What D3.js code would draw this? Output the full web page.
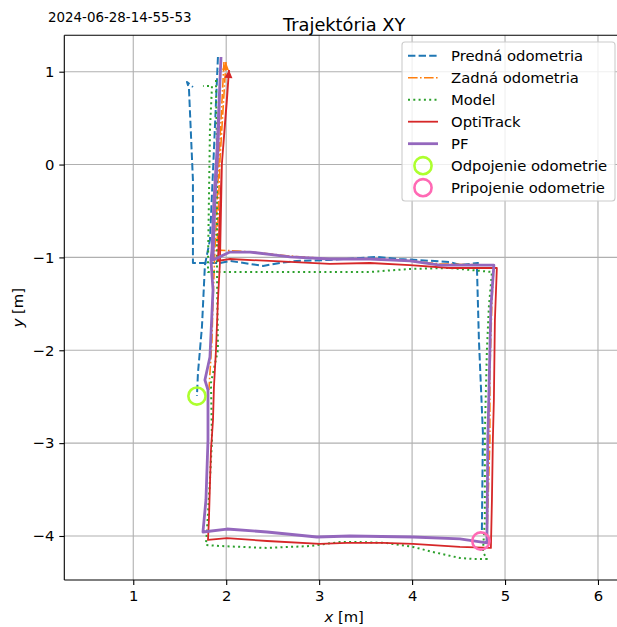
<!DOCTYPE html>
<html><head><meta charset="utf-8">
<script src="https://cdn.jsdelivr.net/npm/d3@7"></script>
<style>body{margin:0;background:#fff}svg{display:block}text{font-family:"DejaVu Sans",sans-serif;fill:#000}</style>
</head><body><svg id="c" width="617" height="627"></svg>
<script>
// ---------- data ----------
const xTicks = [1, 2, 3, 4, 5, 6];
const yTicks = [-4, -3, -2, -1, 0, 1];
const xLimits = [0.258, 6.28];
const yLimits = [-4.474, 1.392];

const seriesNames = ["Predná odometria", "Zadná odometria", "Model", "OptiTrack", "PF"];
const markerNames = ["Odpojenie odometrie", "Pripojenie odometrie"];

// Predná odometria (front odometry) - before disconnect, after reconnect
const prednaA = [[1.911,1.158],[1.868,0.156],[1.825,-0.813],[1.771,-1.082],[1.739,-1.749],[1.696,-2.245],[1.685,-2.493]];
const prednaB = [[4.751,-3.935],[4.762,-2.891],[4.719,-1.889],[4.697,-1.082],[4.708,-1.060],[4.514,-1.082],[4.407,-1.049],
  [3.869,-1.017],[3.622,-0.995],[3.116,-1.027],[2.761,-1.038],[2.578,-1.060],[2.396,-1.092],[2.256,-1.070],[2.040,-1.038],
  [1.933,-1.060],[1.804,-1.060],[1.642,-1.060],[1.642,-0.813],[1.642,-0.168],[1.599,0.824],[1.578,0.889],[1.642,0.835]];

// Zadná odometria (rear odometry)
const zadnaA = [[1.976,1.104],[1.922,0.049],[1.879,-0.921],[1.858,-1.458],[1.847,-1.889],[1.814,-2.428]];
const zadnaB = [[4.805,-4.043],[4.837,-2.966],[4.837,-2.245],[4.859,-1.480],[4.880,-1.082],[4.299,-1.070],[3.977,-1.038],
  [3.546,-1.017],[3.116,-1.017],[2.686,-0.985],[2.256,-0.942],[2.127,-0.931],[1.901,-0.921],[1.933,0.049],[1.997,1.104]];

// Model
const model = [[1.890,0.911],[1.901,0.049],[1.901,-1.168],[1.911,-1.997],[1.836,-2.352],[1.847,-2.966],[1.825,-3.397],
  [1.793,-3.935],[1.782,-4.097],[1.933,-4.108],[2.439,-4.129],[2.901,-4.108],[3.224,-4.065],[3.407,-4.065],[3.729,-4.075],
  [4.009,-4.118],[4.224,-4.172],[4.514,-4.237],[4.654,-4.247],[4.805,-4.247],[4.762,-4.172],[4.783,-3.828],[4.783,-2.891],
  [4.805,-1.997],[4.826,-1.534],[4.859,-1.157],[4.407,-1.114],[3.977,-1.124],[3.546,-1.157],[3.116,-1.157],[2.686,-1.157],
  [2.040,-1.157],[1.804,-1.157],[1.804,-1.060],[1.814,-0.383],[1.825,0.372],[1.847,0.846],[1.750,0.846]];

// OptiTrack
const opti = [[2.030,1.018],[1.954,0.015],[1.933,-1.049],[1.911,-1.458],[1.890,-1.997],[1.868,-2.395],[1.858,-2.751],
  [1.836,-3.074],[1.814,-3.828],[1.804,-4.043],[2.008,-4.022],[2.439,-4.054],[3.009,-4.086],[3.299,-4.075],[3.686,-4.075],
  [4.009,-4.086],[4.514,-4.118],[4.848,-4.129],[4.859,-3.612],[4.869,-2.966],[4.880,-2.536],[4.891,-1.674],[4.912,-1.114],
  [4.407,-1.114],[3.977,-1.082],[3.546,-1.060],[3.116,-1.070],[2.686,-1.049],[2.040,-1.017],[1.911,-1.038],[1.954,0.015],
  [2.008,0.695],[2.030,1.018]];

// PF
const pf = [[1.944,1.158],[1.901,0.156],[1.868,-0.383],[1.847,-0.921],[1.836,-1.027],[1.858,-1.351],[1.825,-2.072],
  [1.771,-2.320],[1.804,-2.428],[1.804,-2.966],[1.782,-3.612],[1.750,-3.957],[2.008,-3.925],[2.439,-3.957],[2.976,-4.011],
  [3.331,-4.000],[4.009,-4.011],[4.514,-4.032],[4.805,-4.075],[4.815,-2.966],[4.848,-1.534],[4.880,-1.082],[4.299,-1.082],
  [3.977,-1.038],[3.546,-1.017],[3.116,-1.017],[2.686,-0.995],[2.256,-0.942],[2.040,-0.942],[1.858,-1.027],[1.879,-0.383],
  [1.911,0.156],[1.933,0.911],[1.944,1.158]];

const odpojenie = [1.685, -2.493];
const pripojenie = [4.740, -4.054];

// ---------- drawing ----------
const svg = d3.select("#c");
const L = 64.3, R = 624, T = 35.3, B = 580;
const x = d3.scaleLinear().domain(xLimits).range([L, R]);
const y = d3.scaleLinear().domain(yLimits).range([B, T]);

svg.append("defs").append("clipPath").attr("id","clip")
  .append("rect").attr("x",L).attr("y",T).attr("width",R-L).attr("height",B-T);

// grid
const grid = svg.append("g").attr("stroke","#b0b0b0").attr("stroke-width",1.1);
xTicks.forEach(t => grid.append("line").attr("x1",x(t)).attr("x2",x(t)).attr("y1",T).attr("y2",B));
yTicks.forEach(t => grid.append("line").attr("y1",y(t)).attr("y2",y(t)).attr("x1",L).attr("x2",R));

const styles = {
  predna:{c:"#1f77b4", w:2, d:"7.4,3.2"},
  zadna:{c:"#ff7f0e", w:1.6, d:"9.6,2.4,1.6,2.4"},
  model:{c:"#2ca02c", w:2, d:"2,3.3"},
  opti:{c:"#d62728", w:1.8, d:null},
  pf:{c:"#9467bd", w:2.8, d:null}
};
const line = d3.line().x(d=>x(d[0])).y(d=>y(d[1]));
const plot = svg.append("g").attr("clip-path","url(#clip)");
function draw(data, s){
  plot.append("path").attr("d",line(data)).attr("fill","none").attr("stroke",s.c)
    .attr("stroke-width",s.w).attr("stroke-dasharray",s.d).attr("stroke-linejoin","round");
}
function arrow(data, s, len, wid){
  const a = data[data.length-2], b = data[data.length-1];
  const x1=x(a[0]), y1=y(a[1]), x2=x(b[0]), y2=y(b[1]);
  const dx=x2-x1, dy=y2-y1, n=Math.hypot(dx,dy), ux=dx/n, uy=dy/n;
  const bx=x2-ux*len, by=y2-uy*len;
  plot.append("polygon").attr("points",[[x2,y2],[bx-uy*wid,by+ux*wid],[bx+uy*wid,by-ux*wid]].map(p=>p.join(",")).join(" "))
    .attr("fill",s.c);
}
draw(prednaA, styles.predna); draw(prednaB, styles.predna);
draw(zadnaA, styles.zadna); draw(zadnaB, styles.zadna); arrow(zadnaB, styles.zadna, 8, 3.5);
draw(model, styles.model);
draw(opti, styles.opti); arrow(opti, styles.opti, 8, 4);
draw(pf, styles.pf);

const markerColors = ["#adff2f", "#ff69b4"];
[odpojenie, pripojenie].forEach((p,i)=>{
  svg.append("circle").attr("cx",x(p[0])).attr("cy",y(p[1])).attr("r",8.6)
    .attr("fill","none").attr("stroke",markerColors[i]).attr("stroke-width",2.6);
});

// spines
const sp = svg.append("g").attr("stroke","#000").attr("stroke-width",1.1);
sp.append("line").attr("x1",L).attr("x2",L).attr("y1",T).attr("y2",B);
sp.append("line").attr("x1",L).attr("x2",R).attr("y1",B).attr("y2",B);
sp.append("line").attr("x1",L).attr("x2",R).attr("y1",T).attr("y2",T);

// axes
const fmt = d => d < 0 ? "\u2212" + Math.abs(d) : String(d);
const xa = svg.append("g").attr("transform",`translate(0,${B})`)
  .call(d3.axisBottom(x).tickValues(xTicks).tickFormat(fmt).tickSize(5).tickPadding(5).tickSizeOuter(0));
const ya = svg.append("g").attr("transform",`translate(${L},0)`)
  .call(d3.axisLeft(y).tickValues(yTicks).tickFormat(fmt).tickSize(5).tickPadding(5).tickSizeOuter(0));
[xa,ya].forEach(a=>{
  a.select(".domain").remove();
  a.selectAll("line").attr("stroke","#000").attr("stroke-width",1.1);
  a.selectAll("text").attr("font-size","14.8px").attr("font-family","DejaVu Sans").attr("fill","#000");
});

// labels
svg.append("text").attr("x",48).attr("y",22).attr("font-size","13.4px").text("2024-06-28-14-55-53");
svg.append("text").attr("x",(L+R)/2).attr("y",30.5).attr("text-anchor","middle").attr("font-size","17.8px").text("Trajektória XY");
const xl = svg.append("text").attr("x",(L+R)/2).attr("y",622).attr("text-anchor","middle").attr("font-size","14.8px");
xl.append("tspan").attr("font-style","italic").text("x");
xl.append("tspan").text(" [m]");
const yl = svg.append("text").attr("transform",`translate(23,${(T+B)/2}) rotate(-90)`).attr("text-anchor","middle").attr("font-size","14.8px");
yl.append("tspan").attr("font-style","italic").text("y");
yl.append("tspan").text(" [m]");

// legend
const lg = svg.append("g");
lg.append("rect").attr("x",402).attr("y",42).attr("width",213).attr("height",159).attr("rx",3)
  .attr("fill","#fff").attr("fill-opacity",0.8).attr("stroke","#cccccc").attr("stroke-width",1.1);
const legendStyles = [styles.predna, styles.zadna, styles.model, styles.opti, styles.pf];
const rowY = i => 55.7 + i*22;
seriesNames.forEach((n,i)=>{
  const s = legendStyles[i];
  lg.append("line").attr("x1",408).attr("x2",438).attr("y1",rowY(i)).attr("y2",rowY(i))
    .attr("stroke",s.c).attr("stroke-width",s.w).attr("stroke-dasharray",s.d);
  lg.append("text").attr("x",451).attr("y",rowY(i)).attr("dy","0.36em").attr("font-size","14.8px").text(n);
});
markerNames.forEach((n,j)=>{
  const i = j + 5;
  lg.append("circle").attr("cx",423).attr("cy",rowY(i)).attr("r",8.6).attr("fill","none")
    .attr("stroke",markerColors[j]).attr("stroke-width",2.6);
  lg.append("text").attr("x",451).attr("y",rowY(i)).attr("dy","0.36em").attr("font-size","14.8px").text(n);
});
</script></body></html>
